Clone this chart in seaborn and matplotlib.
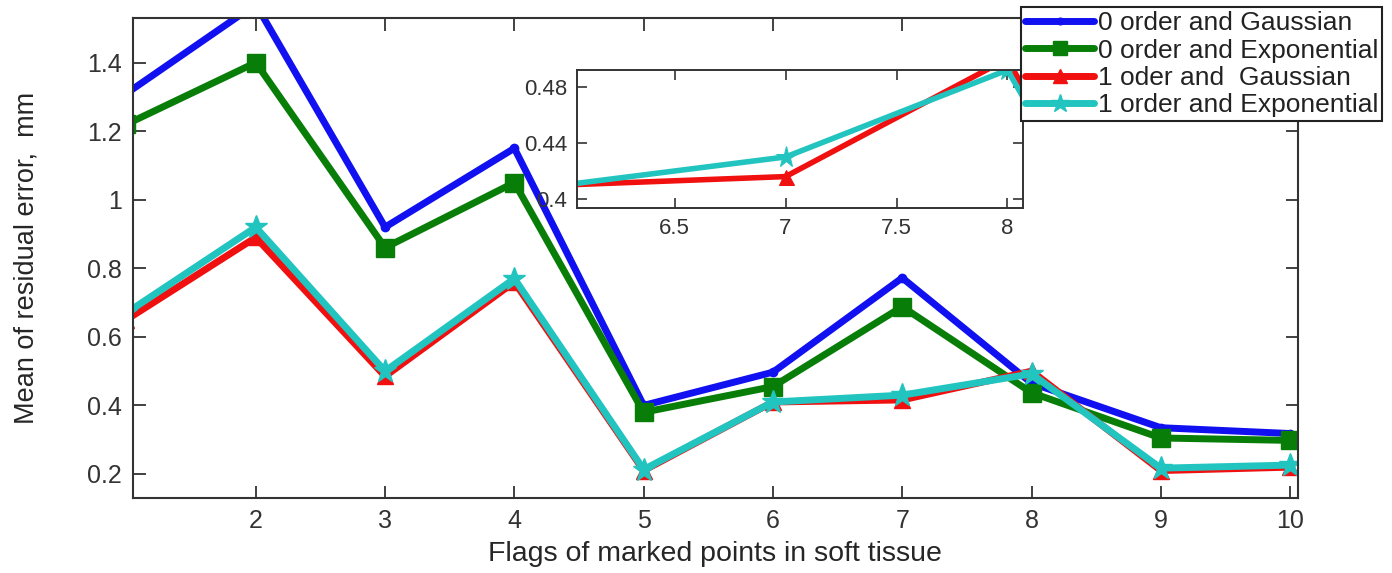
import numpy as np
import pandas as pd
import matplotlib
matplotlib.use("Agg")
import matplotlib.pyplot as plt
import seaborn as sns

# ---- data ----
flags = [1, 2, 3, 4, 5, 6, 7, 8, 9, 10]
order0_gauss = [1.31, 1.57, 0.92, 1.15, 0.40, 0.497, 0.772, 0.465, 0.335, 0.318]
order0_expo = [1.22, 1.40, 0.86, 1.05, 0.38, 0.455, 0.688, 0.437, 0.305, 0.298]
order1_gauss = [0.65, 0.89, 0.485, 0.76, 0.21, 0.41, 0.416, 0.50, 0.21, 0.22]
order1_expo = [0.67, 0.92, 0.50, 0.77, 0.213, 0.41, 0.43, 0.492, 0.217, 0.226]
labels = ["0 order and Gaussian", "0 order and Exponential",
          "1 oder and  Gaussian", "1 order and Exponential"]
xlabel = "Flags of marked points in soft tissue"
ylabel = "Mean of residual error,  mm"
main_yticks = [0.2, 0.4, 0.6, 0.8, 1.0, 1.2, 1.4]
main_yticklabels = ["0.2", "0.4", "0.6", "0.8", "1", "1.2", "1.4"]
main_xticks = [2, 3, 4, 5, 6, 7, 8, 9, 10]
inset_xticks = [6.5, 7, 7.5, 8]
inset_xticklabels = ["6.5", "7", "7.5", "8"]
inset_yticks = [0.40, 0.44, 0.48]
inset_yticklabels = ["0.4", "0.44", "0.48"]

df = pd.DataFrame({
    "flag": flags * 4,
    "value": order0_gauss + order0_expo + order1_gauss + order1_expo,
    "method": sum([[lab] * len(flags) for lab in labels], []),
})

colors = ["#1010f0", "#087d08", "#f01010", "#22c4c0"]
markers = ["o", "s", "^", "*"]
msizes = [6, 13, 12, 17]

sns.set_style("ticks")
plt.rcParams["font.family"] = ["Liberation Sans", "DejaVu Sans"]
plt.rcParams["text.color"] = "#222222"
plt.rcParams["xtick.color"] = "#333333"
plt.rcParams["ytick.color"] = "#333333"
plt.rcParams["axes.edgecolor"] = "#333333"

fig = plt.figure(figsize=(13.92, 5.73), dpi=100)
ax = fig.add_axes([0.0955, 0.1309, 0.8369, 0.8377])

for lab, col, mk, ms in zip(labels, colors, markers, msizes):
    sub = df[df["method"] == lab]
    sns.lineplot(data=sub, x="flag", y="value", ax=ax, color=col, lw=5,
                 marker=mk, markersize=ms, markeredgecolor=col,
                 markeredgewidth=1, label=lab, legend=False)
handles = ax.get_lines()

ax.set_xlim(1.05, 10.06)
ax.set_ylim(0.13, 1.53)
ax.set_xticks(main_xticks)
ax.set_xticklabels([str(v) for v in main_xticks])
ax.set_yticks(main_yticks)
ax.set_yticklabels(main_yticklabels)
ax.tick_params(direction="in", length=9, width=1.3, labelsize=18,
               top=True, right=True, pad=8)
for s in ax.spines.values():
    s.set_linewidth(1.5)
    s.set_visible(True)
ax.set_xlabel(xlabel, fontsize=20.5, labelpad=6)
ax.set_ylabel(ylabel, fontsize=19.5, labelpad=34)

# ---- inset (zoom on the 1st order curves) ----
axi = fig.add_axes([0.4145, 0.637, 0.3204, 0.2408])
for lab, col, mk, ms in list(zip(labels, colors, markers, msizes))[2:]:
    sub = df[df["method"] == lab]
    sns.lineplot(data=sub, x="flag", y="value", ax=axi, color=col, lw=4,
                 marker=mk, markersize=ms * 0.9, markeredgecolor=col,
                 legend=False)
axi.set_xlim(6.06, 8.07)
axi.set_ylim(0.3936, 0.492)
axi.set_xticks(inset_xticks)
axi.set_xticklabels(inset_xticklabels)
axi.set_yticks(inset_yticks)
axi.set_yticklabels(inset_yticklabels)
axi.set_xlabel("")
axi.set_ylabel("")
axi.tick_params(direction="in", length=7, width=1.2, labelsize=16,
                top=True, right=True, pad=7)
for s in axi.spines.values():
    s.set_linewidth(1.4)
    s.set_visible(True)

leg = fig.legend(handles, labels, loc="upper right",
                 bbox_to_anchor=(0.993, 0.987), fontsize=19,
                 frameon=True, fancybox=False, edgecolor="#222222",
                 framealpha=1, borderpad=0.15, handlelength=2.6,
                 handletextpad=0.15, labelspacing=0.12, borderaxespad=0)
leg.get_frame().set_linewidth(1.5)
for h in leg.legend_handles:
    h.set_markersize(h.get_markersize() * 0.8)

fig.savefig("out.png", dpi=100)
